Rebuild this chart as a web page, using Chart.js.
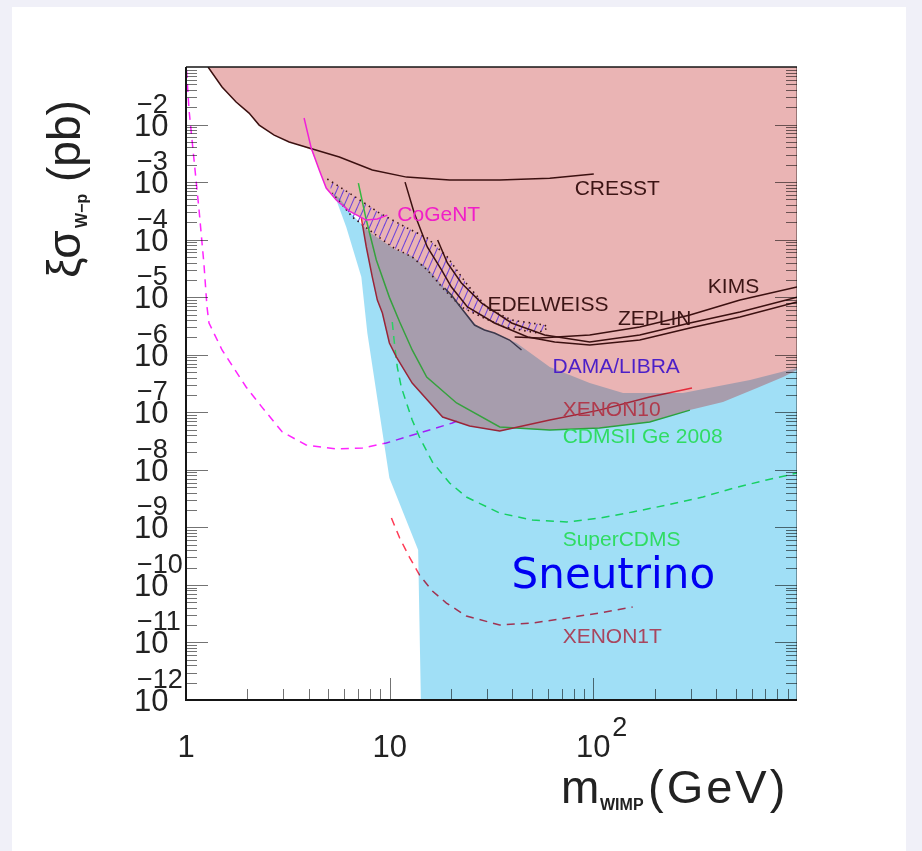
<!DOCTYPE html>
<html>
<head>
<meta charset="utf-8">
<title>Sneutrino WIMP-proton limits</title>
<script src="https://cdn.jsdelivr.net/npm/chart.js@4.4.1/dist/chart.umd.min.js"></script>
<style>
  html, body { margin: 0; padding: 0; background: #f0f0f8; }
  canvas { display: block; }
</style>
</head>
<body>
<canvas id="limits" width="922" height="851"></canvas>
<script>
// masses in GeV, cross sections in pb

// excluded region (pink) outline
const pinkMass = [1.283, 1.503, 1.762, 2.04, 2.287, 2.71, 3.21, 3.59, 4.12, 4.41,
    4.88, 5.47, 6.34, 7.26, 7.68, 8.22, 8.70, 9.21, 9.97, 10.8,
    12.9, 18.2, 24.7, 34.7, 41.1, 61.1, 107, 189, 298, 433,
    636, 855, 1000, 1500, 1500, 1.283];
const pinkSigma = [1e-1, 4.5e-2, 2.46e-2, 1.58e-2, 9.79e-3, 6.56e-3, 4.97e-3, 4.41e-3, 3.61e-3, 1.98e-3,
    7.89e-4, 4.88e-4, 3.14e-4, 2.37e-4, 7.45e-5, 2.24e-5, 8.91e-6, 5.30e-6, 1.60e-6, 9.12e-7,
    3.22e-7, 8.26e-8, 5.77e-8, 4.72e-8, 5.32e-8, 4.92e-8, 5.32e-8, 6.78e-8, 1.09e-7, 1.51e-7,
    2.64e-7, 4.09e-7, 5.42e-7, 7e-7, 1, 1];

// sneutrino region (blue) outline
const sneutrinoMass = [5.17, 5.47, 6.12, 7.26, 7.77, 9.97, 13.8, 14.4, 2000, 2000,
    1000, 588, 275, 140, 96, 61.1, 42.0, 32.7, 27.0, 21.5,
    18.6, 15.3, 12.8, 10.55, 7.94, 6.56, 5.66];
const sneutrinoSigma = [6.71e-4, 4.88e-4, 1.66e-4, 2.24e-5, 2.38e-6, 7.21e-9, 4.04e-10, 1e-13, 1e-13, 6.5e-7,
    5.87e-7, 3.63e-7, 2.16e-7, 2.16e-7, 3.22e-7, 6.11e-7, 1.60e-6, 2.38e-6, 3.03e-6, 7.91e-6,
    1.44e-5, 3.21e-5, 5.19e-5, 6.87e-5, 1.36e-4, 2.67e-4, 5.28e-4];

// DAMA/LIBRA band (hatched)
const damaMass = [4.94, 6.56, 8.90, 12.2, 15.3, 19.2, 24.1, 30.2, 39.7, 57.7, 59.7,
    53.3, 36.6, 28.3, 22.5, 18.6, 15.3, 12.9, 10.3, 7.94, 6.56, 5.23];
const damaSigma = [1.13e-3, 5.96e-4, 2.90e-4, 1.59e-4, 1.07e-4, 4.99e-5, 1.63e-5, 6.47e-6, 4.01e-6, 3.28e-6, 2.91e-6,
    2.38e-6, 3.03e-6, 4.52e-6, 6.75e-6, 1.33e-5, 2.96e-5, 4.99e-5, 7.45e-5, 1.47e-4, 2.47e-4, 6.46e-4];

// experimental limits
const cresstMass = [1.283, 1.503, 1.762, 2.04, 2.287, 2.71, 3.21, 3.59, 5.66, 8.22, 12.1, 19.7, 34.7, 61.1, 100.5];
const cresstSigma = [1e-1, 4.5e-2, 2.46e-2, 1.58e-2, 9.79e-3, 6.56e-3, 4.97e-3, 4.41e-3, 2.72e-3, 1.62e-3, 1.22e-3, 1.09e-3, 1.09e-3, 1.17e-3, 1.38e-3];

const cogentMass = [3.80, 4.12, 4.51, 4.88, 5.47, 6.34, 7.68, 8.70, 9.74];
const cogentSigma = [1.30e-2, 3.90e-3, 1.62e-3, 7.89e-4, 4.88e-4, 3.14e-4, 2.19e-4, 2.28e-4, 2.67e-4];

const xenon10Mass = [7.26, 7.68, 8.22, 8.70, 9.21, 9.97, 10.8, 12.9, 18.2, 24.7, 34.7, 61.1, 107, 189, 305];
const xenon10Sigma = [2.37e-4, 7.45e-5, 2.24e-5, 8.91e-6, 5.30e-6, 1.60e-6, 9.12e-7, 3.22e-7, 8.26e-8, 5.77e-8, 4.72e-8, 7.33e-8, 1.09e-7, 1.84e-7, 2.64e-7];

const cdmsMass = [7.02, 7.68, 8.60, 9.97, 11.2, 12.9, 15.2, 21.3, 34.7, 61.1, 107, 189, 298];
const cdmsSigma = [9.62e-4, 2.19e-4, 4.43e-5, 9.93e-6, 3.70e-6, 1.21e-6, 4.09e-7, 1.45e-7, 5.55e-8, 4.92e-8, 5.32e-8, 6.78e-8, 1.09e-7];

const edelweissMass = [11.9, 13.2, 15.3, 18.0, 20.1, 24.1, 32.7, 47.6, 64.6, 96, 169, 298, 525, 1000];
const edelweissSigma = [1e-3, 2.90e-4, 7.45e-5, 2.96e-5, 1.50e-5, 6.75e-6, 3.56e-6, 2.03e-6, 1.66e-6, 1.48e-6, 1.80e-6, 2.91e-6, 4.52e-6, 8.22e-6];

const zeplinMass = [17.2, 19.2, 22.5, 28.3, 39.7, 57.7, 96, 169, 298, 525, 1000];
const zeplinSigma = [9.84e-5, 3.93e-5, 1.76e-5, 7.91e-6, 3.56e-6, 2.20e-6, 1.66e-6, 2.20e-6, 3.56e-6, 5.52e-6, 1e-5];

const kimsMass = [41.1, 54.5, 96, 169, 298, 525, 1000];
const kimsSigma = [2.03e-6, 1.95e-6, 2.20e-6, 3.03e-6, 4.90e-6, 8.91e-6, 1.50e-5];

const edgeMass = [18.6, 20.1, 21.5, 26.1, 29.2, 32.7, 38.8, 44.4];
const edgeSigma = [1.44e-5, 1.09e-5, 7.91e-6, 3.28e-6, 2.69e-6, 2.38e-6, 1.80e-6, 1.21e-6];

// projections (dashed)
const lowMassMass = [1.006, 1.035, 1.095, 1.159, 1.226, 1.268, 1.297, 1.503, 1.973, 2.36, 2.97, 3.89, 5.47, 7.34, 9.63, 14.0, 20.3, 22.0];
const lowMassSigma = [8.85e-2, 1.79e-2, 2.42e-3, 3.27e-4, 3.62e-5, 6.75e-6, 3.56e-6, 1.21e-6, 2.75e-7, 1.23e-7, 4.54e-8, 2.70e-8, 2.30e-8, 2.39e-8, 2.92e-8, 4.36e-8, 6.50e-8, 7.33e-8];

const superCdmsMass = [10.3, 10.55, 10.9, 11.4, 12.1, 12.9, 14.0, 16.2, 19.7, 23.8, 34.7, 50.3, 74.1, 107, 156, 229, 345, 489, 709, 1000];
const superCdmsSigma = [3.70e-6, 1.60e-6, 6.11e-7, 2.75e-7, 1.45e-7, 7.33e-8, 3.72e-8, 1.37e-8, 5.90e-9, 3.37e-9, 1.77e-9, 1.34e-9, 1.24e-9, 1.45e-9, 1.85e-9, 2.44e-9, 3.37e-9, 4.83e-9, 6.65e-9, 8.79e-9];

const xenon1tMass = [10.2, 11.2, 12.5, 14.0, 16.2, 19.0, 23.8, 34.7, 50.3, 74.1, 107, 156];
const xenon1tSigma = [1.45e-9, 6.53e-10, 3.05e-10, 1.49e-10, 7.83e-11, 4.84e-11, 2.88e-11, 2.01e-11, 2.18e-11, 2.66e-11, 3.25e-11, 4.13e-11];

// axes
const xDecades = [1, 10, 100, 1000];
const xTickLabels = ['1', '10', '10'];
const xTickSups = ['', '', '2'];
const yDecadeExps = [-12, -11, -10, -9, -8, -7, -6, -5, -4, -3, -2, -1];
const yLabelExps = [-12, -11, -10, -9, -8, -7, -6, -5, -4, -3, -2];

const FONT = "'Liberation Sans', Arial, sans-serif";

function pts(ms, ss) {
    return ms.map((m, i) => ({ x: m, y: ss[i] }));
}

// diagonal hatching for the DAMA band
function hatchPattern(color) {
    const w = 7, h = 16;
    const c = document.createElement('canvas');
    c.width = w;
    c.height = h;
    const g = c.getContext('2d');
    g.strokeStyle = color;
    g.lineWidth = 1.1;
    [-w, 0, w].forEach(off => {
        g.beginPath();
        g.moveTo(w + off + w, -h);
        g.lineTo(off - w, 2 * h);
        g.stroke();
    });
    return g.createPattern(c, 'repeat');
}

function line(label, ms, ss, color, extra) {
    return Object.assign({
        label: label,
        data: pts(ms, ss),
        borderColor: color,
        borderWidth: 1.5,
        pointRadius: 0,
        fill: false,
        tension: 0,
        order: 5
    }, extra || {});
}

const PINK = 0;
const BLUE = 1;

const datasets = [
    line('pink', pinkMass, pinkSigma, 'rgba(0,0,0,0)', { backgroundColor: '#eab4b4', fill: 'shape', borderWidth: 0, order: 20 }),
    line('sneutrino', sneutrinoMass, sneutrinoSigma, 'rgba(0,0,0,0)', { backgroundColor: '#a0dff6', fill: 'shape', borderWidth: 0, order: -1 }),
    line('DAMA', damaMass, damaSigma, '#3a1414', { backgroundColor: hatchPattern('#6d44dc'), fill: 'shape', borderWidth: 1.6, borderDash: [1.5, 4], order: 10 }),
    line('CRESST', cresstMass, cresstSigma, '#3b1010'),
    line('CoGeNT', cogentMass, cogentSigma, '#f020d8', { order: -2 }),
    line('XENON10', xenon10Mass, xenon10Sigma, '#e42a3a'),
    line('CDMS', cdmsMass, cdmsSigma, '#35b840'),
    line('EDELWEISS', edelweissMass, edelweissSigma, '#3b1010'),
    line('ZEPLIN', zeplinMass, zeplinSigma, '#3b1010'),
    line('KIMS', kimsMass, kimsSigma, '#3b1010'),
    line('edge', edgeMass, edgeSigma, '#3c3c4c'),
    line('lowmass', lowMassMass, lowMassSigma, '#ff24ff', { borderDash: [8, 6] }),
    line('SuperCDMS', superCdmsMass, superCdmsSigma, '#22ee66', { borderDash: [8, 6] }),
    line('XENON1T', xenon1tMass, xenon1tSigma, '#ff3a55', { borderDash: [8, 6] })
];

// text labels: [text, mass, sigma (left baseline), font, colour]
const notes = [
    ['CRESST', 81, 5.96e-4, '21px ' + FONT, '#3b1414'],
    ['CoGeNT', 10.9, 2.07e-4, '21px ' + FONT, '#f01ec8'],
    ['EDELWEISS', 30.2, 5.64e-6, '21px ' + FONT, '#3b1414'],
    ['ZEPLIN', 132, 3.35e-6, '21px ' + FONT, '#3b1414'],
    ['KIMS', 365, 1.16e-5, '21px ' + FONT, '#3b1414'],
    ['DAMA/LIBRA', 63.1, 4.81e-7, '21px ' + FONT, '#4b1fc8'],
    ['XENON10', 70.7, 8.61e-8, '21px ' + FONT, '#b03a4c'],
    ['CDMSII Ge 2008', 70.7, 2.92e-8, '21px ' + FONT, '#2fdc63'],
    ['SuperCDMS', 70.7, 4.74e-10, '21px ' + FONT, '#2fdc63'],
    ['Sneutrino', 39.7, 8.83e-11, "42px 'DejaVu Sans', sans-serif", '#0000f2'],
    ['XENON1T', 70.7, 9.77e-12, '21px ' + FONT, '#a8465e']
];

function text(ctx, s, x, y, font, color, align) {
    ctx.font = font;
    ctx.fillStyle = color;
    ctx.textAlign = align || 'left';
    ctx.textBaseline = 'alphabetic';
    ctx.fillText(s, x, y);
}

// blue region is laid over everything below it in multiply mode, so the
// overlap with the pink region turns grey and dashed lines change tone
const blendPlugin = {
    id: 'blend',
    afterDatasetDraw(chart, args) {
        const ctx = chart.ctx;
        const metas = chart.getSortedVisibleDatasetMetas();
        const bi = metas.findIndex(m => m.index === BLUE);
        const prev = metas[bi + 1];
        if (prev && args.index === prev.index) ctx.globalCompositeOperation = 'multiply';
        if (args.index !== BLUE) return;
        ctx.globalCompositeOperation = 'source-over';

        // warm the overlap a little so it reads mauve-grey, like the original
        const a = chart.chartArea;
        ctx.save();
        ctx.beginPath();
        ctx.rect(a.left, a.top, a.right - a.left, a.bottom - a.top);
        ctx.clip();
        ctx.beginPath();
        chart.getDatasetMeta(BLUE).dataset.path(ctx);
        ctx.closePath();
        ctx.clip();
        ctx.beginPath();
        chart.getDatasetMeta(PINK).dataset.path(ctx);
        ctx.closePath();
        ctx.globalCompositeOperation = 'lighter';
        ctx.fillStyle = 'rgb(20,0,0)';
        ctx.fill();
        ctx.restore();
    }
};

const pagePlugin = {
    id: 'page',
    beforeDraw(chart) {
        const ctx = chart.ctx;
        ctx.save();
        ctx.fillStyle = '#f0f0f8';
        ctx.fillRect(0, 0, chart.width, chart.height);
        ctx.fillStyle = '#ffffff';
        ctx.fillRect(12, 7, 894, chart.height - 7);
        ctx.restore();
    }
};

const axesPlugin = {
    id: 'rootAxes',
    afterDatasetsDraw(chart) {
        const ctx = chart.ctx;
        const a = chart.chartArea;
        const xs = chart.scales.x, ys = chart.scales.y;
        ctx.save();

        // inside ticks
        ctx.strokeStyle = 'rgba(0,0,0,0.55)';
        ctx.lineWidth = 1;
        ctx.beginPath();
        xDecades.forEach(d => {
            for (let k = 1; k < 10; k++) {
                const v = d * k;
                if (v <= xs.min || v >= xs.max) continue;
                const px = Math.round(xs.getPixelForValue(v)) + 0.5;
                const len = k === 1 ? 22 : 11;
                ctx.moveTo(px, a.bottom);
                ctx.lineTo(px, a.bottom - len);
            }
        });
        yDecadeExps.forEach(e => {
            for (let k = 1; k < 10; k++) {
                const v = k * Math.pow(10, e);
                if (v <= ys.min * 1.0001 || v >= ys.max * 0.9999) continue;
                const py = Math.round(ys.getPixelForValue(v)) + 0.5;
                const len = k === 1 ? 22 : 11;
                ctx.moveTo(a.left, py);
                ctx.lineTo(a.left + len, py);
                ctx.moveTo(a.right, py);
                ctx.lineTo(a.right - len, py);
            }
        });
        ctx.stroke();

        // frame
        ctx.strokeStyle = '#151515';
        ctx.lineWidth = 2;
        ctx.beginPath();
        ctx.moveTo(a.left, a.top);
        ctx.lineTo(a.left, a.bottom);
        ctx.lineTo(a.right, a.bottom);
        ctx.stroke();
        ctx.lineWidth = 1.5;
        ctx.beginPath();
        ctx.moveTo(a.left, a.top);
        ctx.lineTo(a.right, a.top);
        ctx.stroke();
        ctx.strokeStyle = 'rgba(0,0,0,0.35)';
        ctx.lineWidth = 1;
        ctx.beginPath();
        ctx.moveTo(a.right - 0.5, a.top);
        ctx.lineTo(a.right - 0.5, a.bottom);
        ctx.stroke();

        // tick labels
        const ink = '#222';
        const tickFont = '31px ' + FONT;
        const supFont = '27px ' + FONT;
        yLabelExps.forEach(e => {
            const py = ys.getPixelForValue(Math.pow(10, e));
            text(ctx, '10', 134, py + 11, tickFont, ink);
            text(ctx, '\u2212' + Math.abs(e), 137, py - 12, supFont, ink);
        });
        xTickLabels.forEach((s, i) => {
            const px = xs.getPixelForValue(xDecades[i]);
            text(ctx, s, px, 757, tickFont, ink, 'center');
            if (xTickSups[i]) text(ctx, xTickSups[i], px + 19, 736, supFont, ink);
        });

        // axis titles
        text(ctx, 'm', 561, 803, '46px ' + FONT, ink);
        text(ctx, 'WIMP', 600, 810, 'bold 16px ' + FONT, ink);
        ctx.letterSpacing = '3px';
        text(ctx, '(GeV)', 648, 803, '47px ' + FONT, ink);
        ctx.letterSpacing = '0px';

        ctx.save();
        ctx.translate(80, 278);
        ctx.rotate(-Math.PI / 2);
        text(ctx, '\u03BE\u03C3', 0, 0, '46px ' + FONT, ink);
        text(ctx, 'W\u2212p', 50, 7, 'bold 16px ' + FONT, ink);
        text(ctx, '(pb)', 96, 0, '46px ' + FONT, ink);
        ctx.restore();

        // curve labels
        notes.forEach(n => {
            text(ctx, n[0], xs.getPixelForValue(n[1]), ys.getPixelForValue(n[2]), n[3], n[4]);
        });

        ctx.restore();
    }
};

new Chart(document.getElementById('limits'), {
    type: 'line',
    data: { datasets: datasets },
    options: {
        responsive: false,
        animation: false,
        events: [],
        layout: { padding: { left: 186, right: 125, top: 67, bottom: 151 } },
        scales: {
            x: { type: 'logarithmic', min: 1, max: 1000, display: false },
            y: { type: 'logarithmic', min: 1e-12, max: 1e-1, display: false }
        },
        plugins: {
            legend: { display: false },
            tooltip: { enabled: false }
        }
    },
    plugins: [pagePlugin, blendPlugin, axesPlugin]
});
</script>
</body>
</html>
